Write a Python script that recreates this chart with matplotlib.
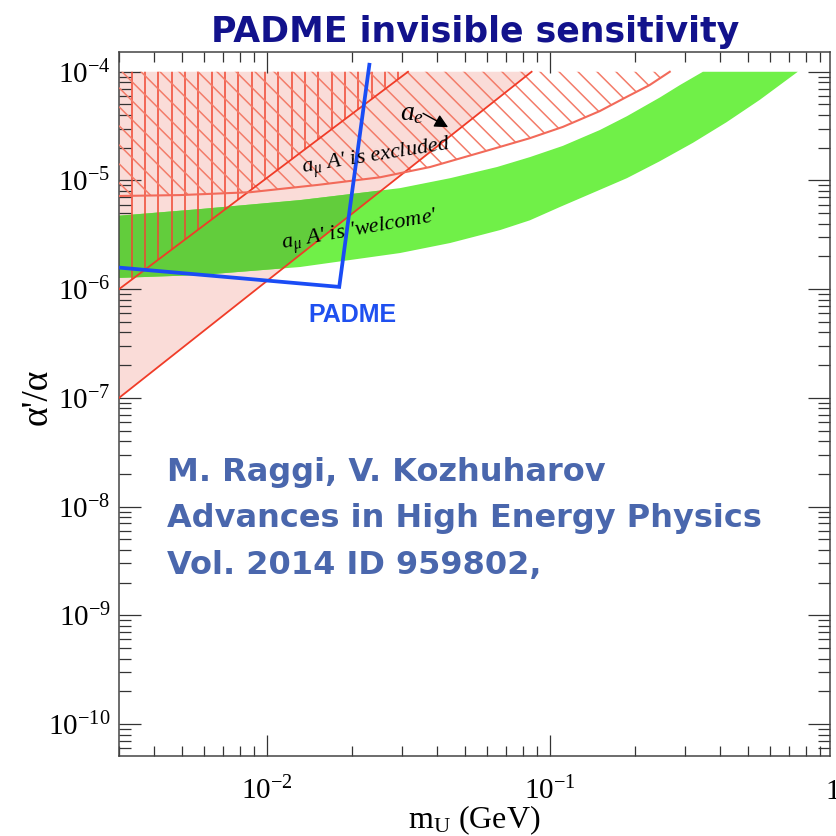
import numpy as np
import matplotlib
matplotlib.use('Agg')
import matplotlib.pyplot as plt
from matplotlib.patches import Polygon
from matplotlib.collections import LineCollection
import matplotlib.transforms as mtrans

plt.rcParams['font.family'] = ['Liberation Serif', 'DejaVu Serif']
plt.rcParams['mathtext.fontset'] = 'custom'
plt.rcParams['mathtext.rm'] = 'Liberation Serif'
plt.rcParams['mathtext.it'] = 'Liberation Serif:italic'
plt.rcParams['mathtext.bf'] = 'Liberation Serif:bold'
plt.rcParams['axes.unicode_minus'] = False

# ---------------- data ----------------
# straight exclusion boundaries (alpha'/alpha vs m_U)
line1_m = [0.003, 0.0315]
line1_a = [1e-6, 1e-4]
line2_m = [0.003, 0.0861]
line2_a = [1e-7, 1e-4]
# a_mu exclusion curve (lower edge of the excluded region)
curve_m = [0.003, 0.00494, 0.00873, 0.0151, 0.0251, 0.0377, 0.065, 0.0849, 0.111, 0.150, 0.187, 0.225, 0.265]
curve_a = [7.2e-6, 7.34e-6, 7.8e-6, 9.1e-6, 1.07e-5, 1.33e-5, 2.0e-5, 2.45e-5, 3.11e-5, 4.35e-5, 5.89e-5, 7.55e-5, 1e-4]
# a_mu 'welcome' band
band_up_m = [0.003, 0.00582, 0.0131, 0.0295, 0.0444, 0.065, 0.0849, 0.111, 0.150, 0.187, 0.2445, 0.288, 0.347]
band_up_a = [4.74e-6, 5.46e-6, 6.6e-6, 8.5e-6, 1.05e-5, 1.33e-5, 1.64e-5, 2.08e-5, 2.91e-5, 3.9e-5, 5.8e-5, 7.55e-5, 1e-4]
band_lo_m = [0.003, 0.00582, 0.0131, 0.0295, 0.0444, 0.0667, 0.0849, 0.1084, 0.150, 0.187, 0.244, 0.320, 0.421, 0.5515, 0.751]
band_lo_a = [1.27e-6, 1.35e-6, 1.6e-6, 2.15e-6, 2.66e-6, 3.5e-6, 4.3e-6, 5.7e-6, 8.2e-6, 1.05e-5, 1.5e-5, 2.22e-5, 3.44e-5, 5.52e-5, 1e-4]
# PADME sensitivity
padme_m = [0.003, 0.0180, 0.0230]
padme_a = [1.58e-6, 1.05e-6, 1.16e-4]

XMIN, XMAX = 0.003, 0.976
YMIN, YMAX = 5.08e-11, 1.52e-4
YTOP = 1e-4

# ---------------- figure ----------------
W = H = 836
fig = plt.figure(figsize=(W / 100, H / 100), dpi=100)
ax_l, ax_r, ax_t, ax_b = 119, 830, 52, 756
ax = fig.add_axes([ax_l / W, (H - ax_b) / H, (ax_r - ax_l) / W, (ax_b - ax_t) / H])
ax.set_xscale('log')
ax.set_yscale('log')
ax.set_xlim(XMIN, XMAX)
ax.set_ylim(YMIN, YMAX)

# pink region (above line 2)
pink = Polygon(list(zip(line2_m + [XMIN], line2_a + [YTOP])), closed=True,
               fc='#fadcd8', ec='none', zorder=1)
ax.add_patch(pink)

# green band
band_pts = list(zip(band_up_m, band_up_a)) + list(zip(band_lo_m[::-1], band_lo_a[::-1]))
ax.add_patch(Polygon(band_pts, closed=True, fc='#70f048', ec='none', zorder=2))
dark = Polygon(band_pts, closed=True, fc='#62cd3c', ec='none', zorder=2.1)
ax.add_patch(dark)
dark.set_clip_path(pink)

# hatch clip regions
vreg = Polygon(list(zip(line1_m + [XMIN], line1_a + [YTOP])), closed=True,
               fc='none', ec='none', zorder=0)
ax.add_patch(vreg)
dreg = Polygon(list(zip(curve_m + [XMIN], curve_a + [YTOP])), closed=True,
               fc='none', ec='none', zorder=0)
ax.add_patch(dreg)

aw, ah = ax_r - ax_l, ax_b - ax_t
ptrans = mtrans.Affine2D().scale(1 / aw, 1 / ah) + ax.transAxes

vsegs = [[(12.7 + 13.33 * k, 0), (12.7 + 13.33 * k, ah)] for k in range(0, 55)]
vlc = LineCollection(vsegs, colors='#f04632', linewidths=1.1, transform=ptrans, zorder=3)
ax.add_collection(vlc)
vlc.set_clip_path(vreg)

c0 = (578.3 - ax_l) + (ax_b - 72)
dsegs = []
for k in range(-90, 40):
    c = c0 + 19.0 * k
    dsegs.append([(0, c), (aw, c - aw)])
dlc = LineCollection(dsegs, colors='#f37c6a', linewidths=1.1, transform=ptrans, zorder=3)
ax.add_collection(dlc)
dlc.set_clip_path(dreg)

# boundary lines
ax.plot(line1_m, line1_a, color='#f03c28', lw=1.3, zorder=4)
ax.plot(line2_m, line2_a, color='#f03c28', lw=1.3, zorder=4)
ax.plot(curve_m, curve_a, color='#f26a5a', lw=1.5, zorder=4)

# PADME line
ax.plot(padme_m, padme_a, color='#1a4cf5', lw=2.7, zorder=6, solid_joinstyle='miter')

# annotations
ax.text(0.3624, 0.8494, r"$a_{\mu}$ A' is excluded", transform=ax.transAxes,
        rotation=9, ha='center', va='center', fontsize=16, style='italic', zorder=7)
ax.text(0.3385, 0.7443, r"$a_{\mu}$ A' is 'welcome'", transform=ax.transAxes,
        rotation=10, ha='center', va='center', fontsize=16, style='italic', zorder=7)
ax.text(0.4115, 0.912, r"$a_e$", transform=ax.transAxes, ha='center', va='center',
        fontsize=20, zorder=7)
ax.annotate('', xy=(0.4663, 0.8913), xytext=(0.4242, 0.9148), xycoords='axes fraction',
            arrowprops=dict(arrowstyle='-|>', color='black', lw=1.0, mutation_scale=20),
            zorder=7)
ax.text(0.3287, 0.6264, 'PADME', transform=ax.transAxes, ha='center', va='center',
        fontsize=18, fontweight='bold', family='Liberation Sans', color='#1f50f0', zorder=7)

# ticks
ax.tick_params(which='both', direction='in', top=True, right=True, color='#333333',
               labelsize=21, width=0.9)
ax.tick_params(axis='y', which='major', length=16, pad=6)
ax.tick_params(axis='y', which='minor', length=8.5)
ax.tick_params(axis='x', which='major', length=15, pad=15)
ax.tick_params(axis='x', which='minor', length=7.5)
for s in ax.spines.values():
    s.set_linewidth(1.1)
    s.set_color('#444444')

ax.text(1.0, -(799 - 756) / ah, '1', transform=mtrans.blended_transform_factory(ax.transData, ax.transAxes),
        ha='center', va='baseline', fontsize=21, clip_on=False)

# axis labels
fig.text(37 / W, 1 - 397 / H, "\u03b1'/\u03b1", rotation=90, ha='center', va='center', fontsize=27)
fig.text(474 / W, 1 - 828 / H, r"$\mathrm{m_U}$ (GeV)", ha='center', va='baseline', fontsize=23)

# title and reference text
fig.text(475 / W, 1 - 42 / H, 'PADME invisible sensitivity', ha='center', va='baseline',
         fontsize=25, fontweight='bold', family='DejaVu Sans', color='#12128c')
cite = ['M. Raggi, V. Kozhuharov', 'Advances in High Energy Physics', 'Vol. 2014 ID 959802,']
for i, line in enumerate(cite):
    fig.text(167 / W, 1 - (481 + 46.5 * i) / H, line, ha='left', va='baseline', fontsize=23,
             fontweight='bold', family='DejaVu Sans', color='#4a67ad')

fig.savefig('out.png', dpi=100)
